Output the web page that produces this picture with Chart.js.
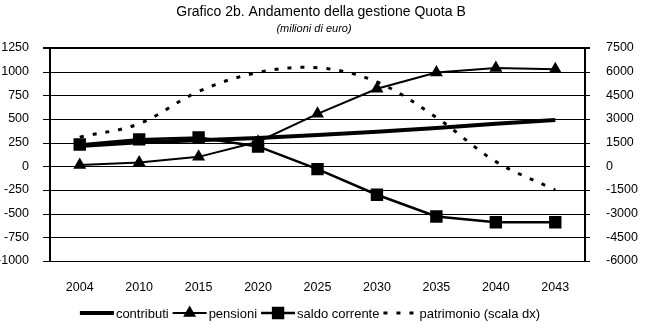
<!DOCTYPE html>
<html>
<head>
<meta charset="utf-8">
<script src="https://cdn.jsdelivr.net/npm/chart.js@4.4.1/dist/chart.umd.min.js"></script>
<style>
  body { margin: 0; background: #fff; }
  #wrap { width: 646px; height: 333px; }
</style>
</head>
<body>
<div id="wrap"><canvas id="quotaChart" width="646" height="333"></canvas></div>
<script>
// years on the category axis
const years = ['2004', '2010', '2015', '2020', '2025', '2030', '2035', '2040', '2043'];

// left scale (milioni di euro)
const contributi = [215, 255, 275, 300, 330, 365, 405, 450, 490];
const pensioni = [15, 40, 100, 260, 555, 820, 990, 1040, 1025];
const saldoCorrente = [230, 285, 305, 210, -30, -300, -530, -590, -590];

// right scale
const patrimonio = [1850, 2700, 4750, 5950, 6250, 5350, 3100, 300, -1500];

const leftTicks = { min: -1000, max: 1250, step: 250 };
const rightTicks = { min: -6000, max: 7500, step: 1500 };

const FONT = 'Liberation Sans, Arial, sans-serif';

// horizontal gridlines and tick marks, drawn under the series
const gridLines = {
    id: 'gridLines',
    beforeDatasetsDraw(chart) {
        const c = chart.ctx;
        const area = chart.chartArea;
        const y = chart.scales.y;
        c.save();
        c.fillStyle = '#000';
        for (let v = leftTicks.min; v <= leftTicks.max; v += leftTicks.step) {
            const py = Math.round(y.getPixelForValue(v));
            const h = v === leftTicks.max ? 2 : 1;
            // gridline across the plot
            c.fillRect(area.left - 7, py - (h === 2 ? 1 : 0), area.right - area.left + 12, h);
        }
        c.restore();
    }
};

// title, subtitle and legend drawn on the canvas
const decorations = {
    id: 'decorations',
    afterDraw(chart) {
        const c = chart.ctx;
        c.save();
        c.fillStyle = '#000';
        c.textAlign = 'center';
        c.textBaseline = 'middle';
        c.font = '14px ' + FONT;
        c.fillText('Grafico 2b. Andamento della gestione Quota B', 321, 12);
        c.font = 'italic 11px ' + FONT;
        c.fillText('(milioni di euro)', 314, 29);

        // legend
        c.font = '13px ' + FONT;
        const y = 313;
        const sampleW = 34;
        const items = chart.data.datasets.map(ds => ({ ds, tw: c.measureText(ds.label).width }));
        const total = items.reduce((s, it) => s + sampleW + 2 + it.tw, 0) + 4 * (items.length - 1);
        let x = 310 - total / 2;
        c.textAlign = 'left';
        items.forEach(it => {
            const ds = it.ds;
            c.strokeStyle = '#000';
            c.lineWidth = ds.borderWidth;
            c.setLineDash(ds.borderDash || []);
            c.beginPath();
            c.moveTo(x, y);
            c.lineTo(x + sampleW, y);
            c.stroke();
            c.setLineDash([]);
            if (ds.pointRadius > 0) {
                Chart.helpers.drawPoint(c, {
                    pointStyle: ds.pointStyle,
                    radius: ds.pointRadius,
                    borderWidth: 1,
                    rotation: 0
                }, x + sampleW / 2, y);
            }
            c.fillStyle = '#000';
            c.fillText(ds.label, x + sampleW + 2, y + 1);
            x += sampleW + 2 + it.tw + 4;
        });
        c.restore();
    }
};

const ctx = document.getElementById('quotaChart').getContext('2d');

new Chart(ctx, {
    type: 'line',
    data: {
        labels: years,
        datasets: [
            {
                label: 'contributi',
                data: contributi,
                yAxisID: 'y',
                borderColor: '#000',
                backgroundColor: '#000',
                borderWidth: 4,
                pointRadius: 0,
                tension: 0
            },
            {
                label: 'pensioni',
                data: pensioni,
                yAxisID: 'y',
                borderColor: '#000',
                backgroundColor: '#000',
                borderWidth: 2,
                pointStyle: 'triangle',
                pointRadius: 5.5,
                tension: 0
            },
            {
                label: 'saldo corrente',
                data: saldoCorrente,
                yAxisID: 'y',
                borderColor: '#000',
                backgroundColor: '#000',
                borderWidth: 2.5,
                pointStyle: 'rect',
                pointRadius: 7,
                tension: 0
            },
            {
                label: 'patrimonio (scala dx)',
                data: patrimonio,
                yAxisID: 'y2',
                borderColor: '#000',
                backgroundColor: '#000',
                borderWidth: 3,
                borderDash: [4, 9],
                pointRadius: 0,
                tension: 0.35
            }
        ]
    },
    options: {
        responsive: false,
        animation: false,
        layout: { padding: { top: 48, bottom: 0, left: 0, right: 0 } },
        plugins: {
            legend: { display: false },
            tooltip: { enabled: false }
        },
        scales: {
            x: {
                offset: true,
                grid: { display: false },
                border: { display: false },
                ticks: { color: '#000', font: { family: FONT, size: 12.5 }, padding: 11, maxRotation: 0 },
                afterFit: s => { s.height = 72; }
            },
            y: {
                position: 'left',
                min: leftTicks.min,
                max: leftTicks.max,
                ticks: {
                    stepSize: leftTicks.step,
                    color: '#000',
                    font: { family: FONT, size: 12.5 },
                    padding: 13,
                    callback: v => String(v)
                },
                grid: { display: false },
                border: { display: true, color: '#000', width: 2 },
                afterFit: s => { s.width = 50; }
            },
            y2: {
                position: 'right',
                min: rightTicks.min,
                max: rightTicks.max,
                ticks: {
                    stepSize: rightTicks.step,
                    color: '#000',
                    font: { family: FONT, size: 12.5 },
                    padding: 13,
                    callback: v => String(v)
                },
                grid: { display: false },
                border: { display: true, color: '#000', width: 2 },
                afterFit: s => { s.width = 61; }
            }
        }
    },
    plugins: [gridLines, decorations]
});
</script>
</body>
</html>
